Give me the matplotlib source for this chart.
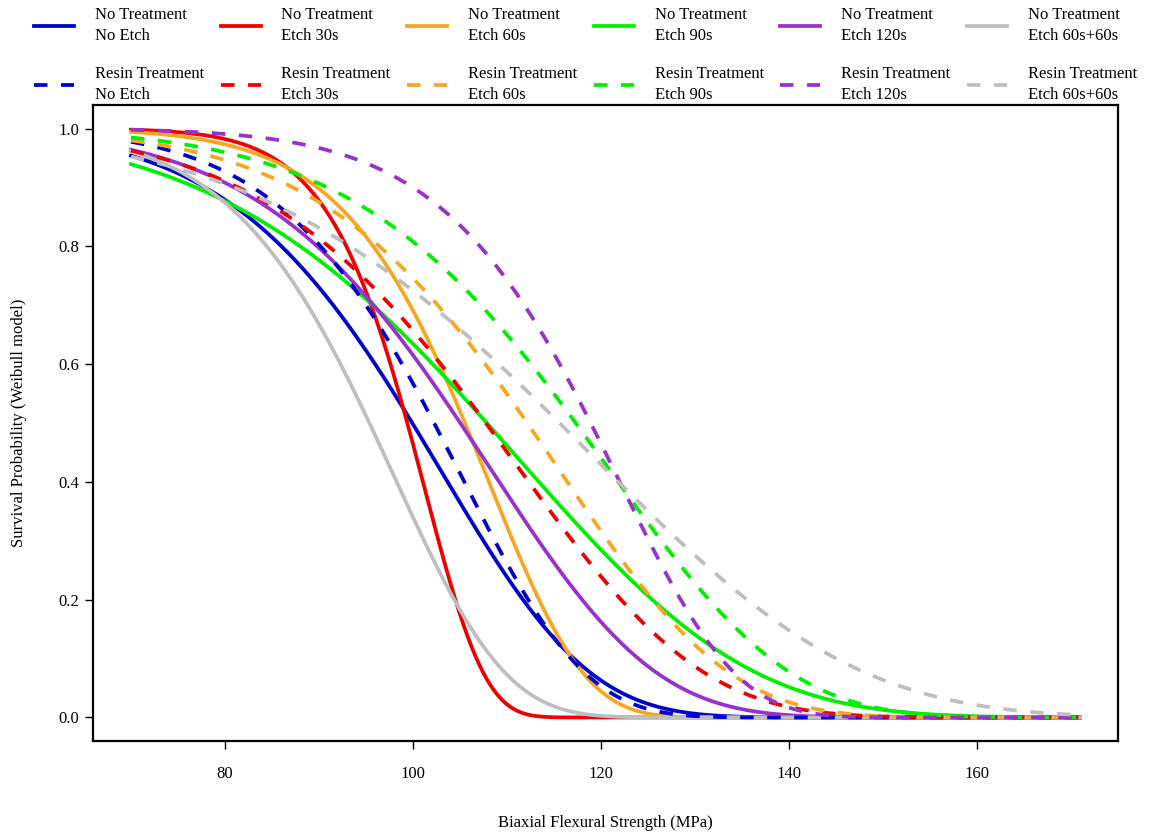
import numpy as np
import matplotlib
matplotlib.use("Agg")
import matplotlib.pyplot as plt
from matplotlib.lines import Line2D

plt.rcParams['font.family'] = ['Liberation Serif', 'DejaVu Serif']

# groups and colours
etch = ["No Etch", "Etch 30s", "Etch 60s", "Etch 90s", "Etch 120s", "Etch 60s+60s"]
colors = ["#0000CD", "#EE0000", "#F5A623", "#00EE00", "#9932CC", "#BEBEBE"]

# Weibull parameters (shape m, characteristic strength s0 in MPa)
shape_no = [7.56, 16.8, 11.69, 5.57, 7.24, 9.32]
scale_no = [104.9, 101.6, 108.9, 115.2, 110.5, 99.2]
shape_resin = [9.02, 6.72, 7.49, 7.38, 10.87, 5.29]
scale_resin = [106.5, 113.8, 117.8, 123.3, 123.0, 123.9]

# strength range of the curves
x_min, x_max = 70, 171

x_ticks = [80, 100, 120, 140, 160]
y_ticks = [0.0, 0.2, 0.4, 0.6, 0.8, 1.0]

W, H = 1163, 836
fig = plt.figure(figsize=(W / 100, H / 100), dpi=100)
ax = fig.add_axes([93 / W, 1 - 741 / H, (1118 - 93) / W, (741 - 105) / H])

x = np.linspace(x_min, x_max, 500)

def survival(x, m, s0):
    return np.exp(-(x / s0) ** m)

lw = 2.7
dash = (0, (3.6, 3.6))
for i in range(len(etch)):
    ax.plot(x, survival(x, shape_no[i], scale_no[i]), color=colors[i], lw=lw)
for i in range(len(etch)):
    ax.plot(x, survival(x, shape_resin[i], scale_resin[i]), color=colors[i], lw=lw,
            linestyle=dash)

pad = 0.04 * (x_max - x_min)
ax.set_xlim(x_min - pad, x_max + pad)
ax.set_ylim(-0.04, 1.04)
ax.set_xticks(x_ticks)
ax.set_yticks(y_ticks)
ax.set_yticklabels([f"{v:.1f}" for v in y_ticks])
ax.tick_params(axis='both', direction='out', length=6, width=1, labelsize=12)
ax.tick_params(axis='x', pad=12)
ax.tick_params(axis='y', pad=4)
for sp in ax.spines.values():
    sp.set_linewidth(1.6)
    sp.set_color("black")

ax.set_xlabel("Biaxial Flexural Strength (MPa)", fontsize=12)
ax.xaxis.set_label_coords(0.5, -0.116)
ax.set_ylabel("Survival Probability (Weibull model)", fontsize=12)
ax.yaxis.set_label_coords(-0.064, 0.5)

# legend: one column per etch group, solid (no treatment) above dashed (resin)
handles, labels = [], []
for i, e in enumerate(etch):
    handles.append(Line2D([], [], color=colors[i], lw=lw))
    labels.append("No Treatment\n" + e)
    handles.append(Line2D([], [], color=colors[i], lw=lw, linestyle=dash))
    labels.append("Resin Treatment\n" + e)

leg = fig.legend(handles, labels, ncol=6, loc='upper left',
                 bbox_to_anchor=(34 / W, 1 - 7 / H),
                 frameon=False, fontsize=12, handlelength=2.4, handletextpad=1.25,
                 columnspacing=0.99, labelspacing=1.3, borderpad=0, borderaxespad=0)
for t in leg.get_texts():
    t.set_linespacing(1.45)

fig.savefig("out.png", dpi=100)
